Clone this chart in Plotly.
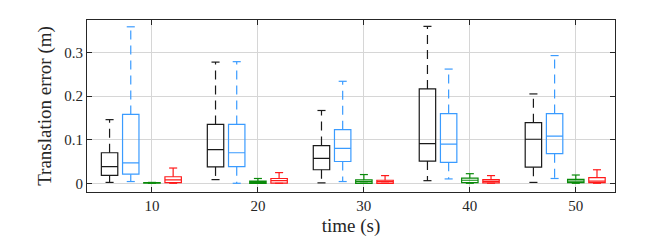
import plotly.graph_objects as go

# Group positions (time, s)
times = [10, 20, 30, 40, 50]
tick_labels = ["10", "20", "30", "40", "50"]

# Series offsets within each group and colours
series_names = ["Method A", "Method B", "Method C", "Method D"]
series_offsets = [-4, -2, 0, 2]
series_colors = ["#1a1a1a", "#3a9bff", "#0a8a0a", "#ff1a1a"]

# Box statistics per series (one value per time group)
lower = {
    "Method A": [0.002, 0.0084, 0.001, 0.006, 0.002],
    "Method B": [0.004, 0.000, 0.004, 0.010, 0.011],
    "Method C": [0.000, 0.000, 0.000, 0.000, 0.000],
    "Method D": [0.000, 0.000, 0.000, 0.000, 0.000],
}
q1 = {
    "Method A": [0.018, 0.0375, 0.031, 0.051, 0.037],
    "Method B": [0.021, 0.038, 0.050, 0.048, 0.068],
    "Method C": [0.0005, 0.000, 0.000, 0.0015, 0.0015],
    "Method D": [0.0015, 0.0005, 0.000, 0.0008, 0.0015],
}
median = {
    "Method A": [0.038, 0.077, 0.057, 0.091, 0.101],
    "Method B": [0.047, 0.070, 0.080, 0.090, 0.108],
    "Method C": [0.001, 0.0025, 0.004, 0.007, 0.005],
    "Method D": [0.008, 0.006, 0.004, 0.0046, 0.005],
}
q3 = {
    "Method A": [0.070, 0.135, 0.0865, 0.2165, 0.139],
    "Method B": [0.158, 0.135, 0.123, 0.160, 0.160],
    "Method C": [0.0015, 0.005, 0.0077, 0.012, 0.009],
    "Method D": [0.015, 0.011, 0.007, 0.0084, 0.013],
}
upper = {
    "Method A": [0.146, 0.278, 0.167, 0.360, 0.205],
    "Method B": [0.359, 0.279, 0.234, 0.262, 0.293],
    "Method C": [0.002, 0.011, 0.020, 0.022, 0.019],
    "Method D": [0.035, 0.0245, 0.0176, 0.0176, 0.031],
}

box_width = 1.55
cap_half = 0.38
FONT = "Liberation Serif"

fig = go.Figure()

for name, off, col in zip(series_names, series_offsets, series_colors):
    xs = [t + off for t in times]
    # Boxes (whiskers drawn separately)
    fig.add_trace(go.Box(
        x=xs, q1=q1[name], median=median[name], q3=q3[name],
        lowerfence=q1[name], upperfence=q3[name],
        width=box_width, line=dict(color=col, width=1.2),
        fillcolor="rgba(0,0,0,0)", boxpoints=False, showlegend=False,
        whiskerwidth=0, hoverinfo="skip",
    ))
    # Dashed whiskers
    wx, wy = [], []
    for x, a, b, c, d in zip(xs, lower[name], q1[name], q3[name], upper[name]):
        wx += [x, x, None, x, x, None]
        wy += [c, d, None, b, a, None]
    fig.add_trace(go.Scatter(
        x=wx, y=wy, mode="lines", line=dict(color=col, width=1.2, dash="9px,6px"),
        showlegend=False, hoverinfo="skip",
    ))
    # Whisker caps
    cx, cy = [], []
    for x, a, d in zip(xs, lower[name], upper[name]):
        cx += [x - cap_half, x + cap_half, None, x - cap_half, x + cap_half, None]
        cy += [d, d, None, a, a, None]
    fig.add_trace(go.Scatter(
        x=cx, y=cy, mode="lines", line=dict(color=col, width=1.2),
        showlegend=False, hoverinfo="skip",
    ))

axis_common = dict(
    showline=True, linecolor="#262626", linewidth=1, mirror="ticks",
    ticks="inside", ticklen=5, tickcolor="#262626",
    showgrid=True, gridcolor="#d6d6d6", gridwidth=1, zeroline=False,
    tickfont=dict(family=FONT, size=15, color="#262626"),
)

fig.update_layout(
    width=664, height=235,
    margin=dict(l=79, r=57, t=11, b=44),
    font=dict(family=FONT, size=15, color="#262626"),
    paper_bgcolor="white", plot_bgcolor="white",
    boxmode="overlay", showlegend=False,
    xaxis=dict(
        range=[3.87, 53.7], tickvals=times, ticktext=tick_labels,
        title=dict(text="time (s)", font=dict(family=FONT, size=19, color="#262626"), standoff=5),
        **axis_common,
    ),
    yaxis=dict(
        range=[-0.02, 0.3746], tickvals=[0, 0.1, 0.2, 0.3], ticktext=["0", "0.1", "0.2", "0.3"],
        title=dict(text="Translation error (m)", font=dict(family=FONT, size=19, color="#262626"), standoff=7),
        **axis_common,
    ),
)

fig.write_html("out.html")
